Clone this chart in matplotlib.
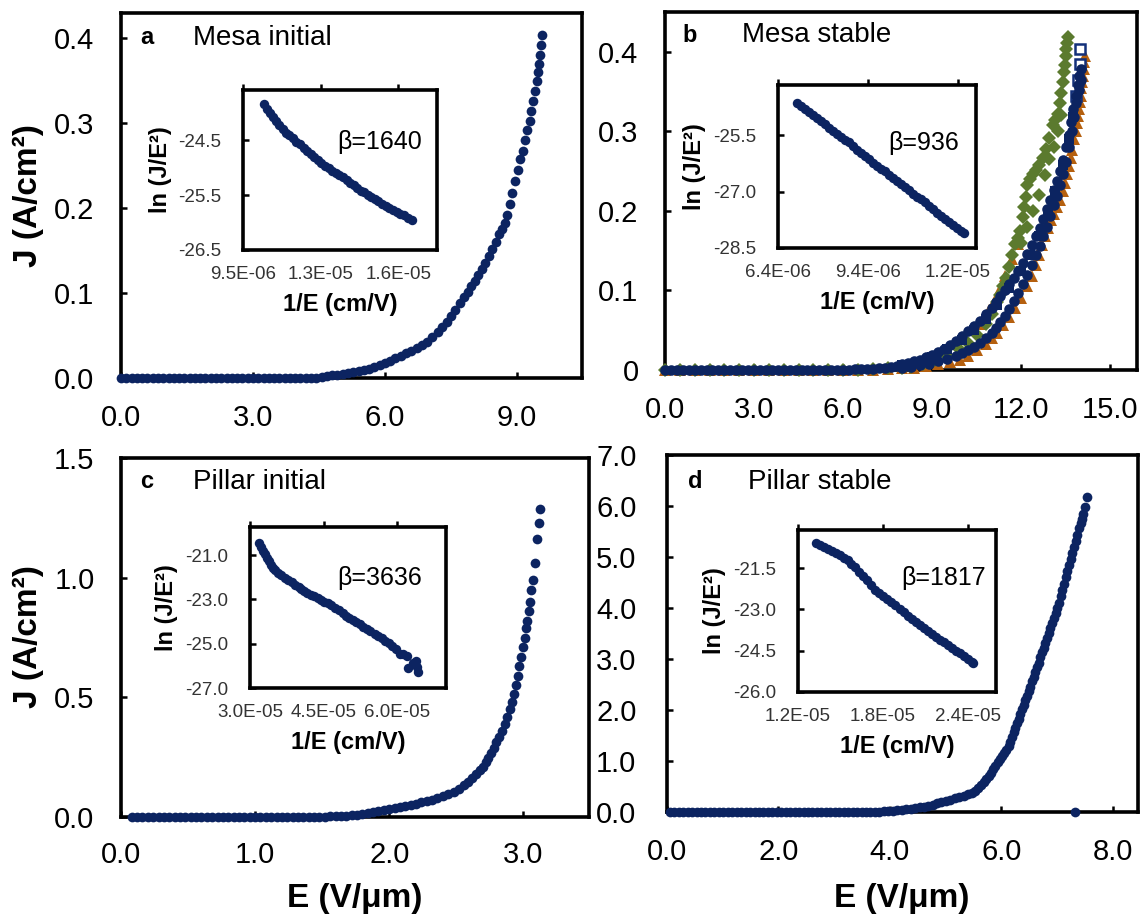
import matplotlib
matplotlib.use("Agg")
import matplotlib.pyplot as plt
import numpy as np

plt.rcParams['font.family'] = ['Liberation Sans', 'DejaVu Sans']
plt.rcParams['axes.unicode_minus'] = False

# ---------------- data ----------------
# Panel a: Mesa initial, E (V/um) vs J (A/cm2)
E_a = [0.00, 0.12, 0.24, 0.36, 0.48, 0.60, 0.72, 0.84, 0.96, 1.08, 1.20, 1.32, 1.44, 1.56, 1.68, 1.80,
       1.92, 2.04, 2.16, 2.28, 2.40, 2.52, 2.64, 2.76, 2.88, 3.00, 3.12, 3.24, 3.36, 3.48, 3.60, 3.72,
       3.84, 3.96, 4.08, 4.20, 4.32, 4.44,
       4.56, 4.68, 4.80, 4.92, 5.04, 5.16, 5.28, 5.40, 5.52, 5.64, 5.76, 5.88, 6.00, 6.12, 6.24, 6.36,
       6.48, 6.60, 6.72, 6.84, 6.96, 7.08, 7.20, 7.30, 7.40, 7.50, 7.60, 7.70, 7.80, 7.88, 7.96, 8.04,
       8.12, 8.20, 8.28, 8.36, 8.44, 8.52, 8.60, 8.66, 8.72, 8.78, 8.84, 8.90, 8.96, 9.02, 9.08, 9.14,
       9.19, 9.24, 9.29, 9.33, 9.37, 9.41, 9.45, 9.48, 9.51, 9.53, 9.55, 9.57]
J_a = [0.000, 0.000, 0.000, 0.000, 0.000, 0.000, 0.000, 0.000, 0.000, 0.000, 0.000, 0.000, 0.000, 0.000,
       0.000, 0.000, 0.000, 0.000, 0.000, 0.000, 0.000, 0.000, 0.000, 0.000, 0.000, 0.000, 0.000, 0.000,
       0.000, 0.000, 0.000, 0.000, 0.000, 0.000, 0.000, 0.000, 0.000, 0.000,
       0.001, 0.002, 0.003, 0.004, 0.005, 0.006, 0.007, 0.008, 0.010, 0.011, 0.013, 0.015, 0.018, 0.020,
       0.023, 0.026, 0.029, 0.032, 0.035, 0.039, 0.043, 0.048, 0.054, 0.060, 0.066, 0.073, 0.080, 0.088,
       0.095, 0.101, 0.108, 0.114, 0.121, 0.128, 0.136, 0.144, 0.152, 0.160, 0.170, 0.176, 0.183, 0.192,
       0.205, 0.218, 0.232, 0.245, 0.258, 0.268, 0.280, 0.292, 0.303, 0.315, 0.326, 0.338, 0.350, 0.360,
       0.370, 0.380, 0.392, 0.404]

# Panel b: Mesa stable, several runs
E_b_circ = [0.0, 0.2, 0.4, 0.6, 0.8, 1.0, 1.2, 1.4, 1.6, 1.8, 2.0, 2.2, 2.4, 2.6, 2.8, 3.0, 3.2, 3.4,
            3.6, 3.8, 4.0, 4.2, 4.4, 4.6, 4.8, 5.0, 5.2, 5.4, 5.6, 5.8, 6.0, 6.2, 6.4, 6.6, 6.8, 7.0,
            7.2, 7.4, 7.6, 7.8, 8.0, 8.2, 8.4, 8.6, 8.8, 9.0, 9.2, 9.4, 9.6, 9.8, 10.0, 10.2, 10.4, 10.6,
            10.8, 11.0, 11.15, 11.3, 11.45, 11.6, 11.75, 11.9, 12.05, 12.2, 12.35, 12.5, 12.62, 12.74,
            12.86, 12.98, 13.1, 13.2, 13.3, 13.4, 13.5, 13.6, 13.68, 13.76, 13.84, 13.9, 13.95, 14.0]
J_b_circ = [0.0, 0.0, 0.0, 0.0, 0.0, 0.0, 0.0, 0.0, 0.0, 0.0, 0.0, 0.0, 0.0, 0.0, 0.0, 0.0, 0.0, 0.0,
            0.0, 0.0, 0.0, 0.0, 0.0, 0.0, 0.0, 0.0, 0.0, 0.0, 0.0, 0.0, 0.0, 0.0, 0.001, 0.001, 0.001, 0.001,
            0.002, 0.003, 0.004, 0.005, 0.007, 0.009, 0.011, 0.013, 0.016, 0.019, 0.023, 0.027, 0.032, 0.037,
            0.043, 0.049, 0.055, 0.062, 0.070, 0.078, 0.085, 0.093, 0.100, 0.108, 0.116, 0.125, 0.135, 0.146,
            0.157, 0.168, 0.178, 0.190, 0.202, 0.214, 0.226, 0.238, 0.250, 0.264, 0.280, 0.296, 0.312, 0.328,
            0.345, 0.358, 0.370, 0.378]
E_b_circ2 = [8.0, 8.3, 8.6, 8.9, 9.2, 9.5, 9.8, 10.0, 10.2, 10.4, 10.6, 10.8, 11.0, 11.15, 11.3, 11.45,
             11.6, 11.75, 11.9, 12.05, 12.2, 12.35, 12.5, 12.62, 12.74, 12.86, 12.98, 13.1, 13.2, 13.3,
             13.4, 13.5, 13.6, 13.7, 13.78, 13.86, 13.93, 14.0]
J_b_circ2 = [0.003, 0.004, 0.006, 0.008, 0.011, 0.014, 0.018, 0.021, 0.025, 0.029, 0.034, 0.040, 0.047,
             0.053, 0.060, 0.068, 0.077, 0.087, 0.097, 0.108, 0.120, 0.132, 0.145, 0.156, 0.168, 0.180,
             0.193, 0.207, 0.219, 0.232, 0.246, 0.262, 0.280, 0.300, 0.318, 0.336, 0.352, 0.365]
E_b_sq = [8.0, 8.5, 9.0, 9.5, 10.0, 10.4, 10.8, 11.2, 11.6, 12.0, 12.3, 12.6, 12.9, 13.15, 13.4, 13.6,
          13.75, 13.85, 13.92, 13.97, 13.97]
J_b_sq = [0.006, 0.010, 0.016, 0.026, 0.038, 0.050, 0.064, 0.082, 0.103, 0.125, 0.145, 0.168, 0.196,
          0.225, 0.258, 0.290, 0.318, 0.345, 0.365, 0.385, 0.404]
E_b_tri = [0.0, 0.5, 1.0, 1.5, 2.0, 2.5, 3.0, 3.5, 4.0, 4.5, 5.0, 5.5, 6.0, 6.5, 7.0, 7.5, 8.0,
           8.4, 8.8, 9.2, 9.6, 9.93, 10.2, 10.5, 10.8, 11.0, 11.2, 11.4, 11.6, 11.8, 12.0, 12.2, 12.35,
           12.5, 12.6, 12.7, 12.8, 12.9, 13.0, 13.1, 13.2, 13.3, 13.4, 13.47, 13.54, 13.6, 13.66, 13.72,
           13.78, 13.83, 13.87, 13.91, 13.94, 13.97, 14.0, 14.03, 14.05, 14.08, 14.1, 14.12, 14.14,
           10.6, 10.9, 11.1, 11.3, 11.45, 11.7, 11.9]
J_b_tri = [0.0, 0.0, 0.0, 0.0, 0.0, 0.0, 0.0, 0.0, 0.0, 0.0, 0.0, 0.0, 0.0, 0.0, 0.0, 0.001, 0.002,
           0.003, 0.005, 0.007, 0.010, 0.0125, 0.018, 0.025, 0.033, 0.040, 0.047, 0.056, 0.066, 0.078,
           0.091, 0.105, 0.118, 0.132, 0.145, 0.157, 0.168, 0.178, 0.188, 0.196, 0.205, 0.214, 0.225,
           0.235, 0.246, 0.256, 0.266, 0.277, 0.290, 0.300, 0.310, 0.319, 0.328, 0.337, 0.345, 0.354,
           0.362, 0.370, 0.378, 0.387, 0.395,
           0.058, 0.075, 0.088, 0.102, 0.118, 0.140, 0.158]
E_b_dia = [0.0, 0.5, 1.0, 1.5, 2.0, 2.5, 3.0, 3.5, 4.0, 4.5, 5.0, 5.5, 6.0, 6.5, 7.0, 7.5, 8.0,
           8.3, 8.7, 9.1, 9.5, 9.9, 10.2, 10.5, 10.8, 11.0, 11.2, 11.3, 11.4, 11.5, 11.6, 11.7, 11.8,
           11.9, 11.96, 12.05, 12.1, 12.15, 12.2, 12.3, 12.4, 12.5, 12.6, 12.73, 12.85, 12.95, 13.06,
           13.15, 13.25, 13.3, 13.35, 13.4, 13.44, 13.47, 13.5, 13.52, 13.55, 13.57,
           12.0, 12.2, 12.4, 12.6, 12.8, 12.95, 13.1, 13.25, 13.35]
J_b_dia = [0.0, 0.0, 0.0, 0.0, 0.0, 0.0, 0.0, 0.0, 0.0, 0.0, 0.0, 0.0, 0.0, 0.0, 0.001, 0.002, 0.003,
           0.004, 0.007, 0.012, 0.018, 0.026, 0.034, 0.044, 0.058, 0.070, 0.085, 0.094, 0.105, 0.116,
           0.130, 0.145, 0.158, 0.166, 0.175, 0.192, 0.205, 0.218, 0.232, 0.240, 0.246, 0.252, 0.258,
           0.266, 0.278, 0.292, 0.308, 0.314, 0.322, 0.335, 0.348, 0.362, 0.374, 0.384, 0.395, 0.403,
           0.411, 0.419,
           0.160, 0.180, 0.200, 0.220, 0.245, 0.265, 0.280, 0.300, 0.320]

# Panel c: Pillar initial
E_c = [0.08, 0.12, 0.16, 0.20, 0.24, 0.28, 0.32, 0.36, 0.40, 0.44, 0.48, 0.52, 0.56, 0.60, 0.64, 0.68,
       0.72, 0.76, 0.80, 0.84, 0.88, 0.92, 0.96, 1.00, 1.04, 1.08, 1.12, 1.16, 1.20, 1.24, 1.28, 1.32,
       1.36, 1.40, 1.44, 1.48, 1.52, 1.56, 1.60, 1.64, 1.68, 1.72,
       1.76, 1.80, 1.84, 1.88, 1.92, 1.96, 2.00, 2.04, 2.08, 2.12, 2.16, 2.20, 2.24, 2.28, 2.32, 2.36,
       2.40, 2.44, 2.48, 2.52, 2.56, 2.59, 2.62, 2.65, 2.68, 2.70, 2.72, 2.74, 2.76, 2.78, 2.80, 2.82,
       2.84, 2.86, 2.88, 2.90, 2.915, 2.93, 2.945, 2.96, 2.97, 2.985, 3.00, 3.01, 3.02, 3.03, 3.04,
       3.05, 3.06, 3.075, 3.09, 3.10, 3.12, 3.127]
J_c = [0.000, 0.000, 0.000, 0.000, 0.000, 0.000, 0.000, 0.000, 0.000, 0.000, 0.000, 0.000, 0.000, 0.000,
       0.000, 0.000, 0.000, 0.000, 0.000, 0.000, 0.000, 0.000, 0.000, 0.000, 0.000, 0.000, 0.000, 0.000,
       0.000, 0.000, 0.000, 0.000, 0.000, 0.001, 0.001, 0.002, 0.002, 0.003, 0.004, 0.005, 0.006, 0.008,
       0.010, 0.014, 0.018, 0.021, 0.025, 0.029, 0.033, 0.037, 0.041, 0.046, 0.051, 0.056, 0.061, 0.067,
       0.073, 0.080, 0.087, 0.095, 0.104, 0.115, 0.135, 0.148, 0.162, 0.178, 0.196, 0.210, 0.228, 0.248,
       0.268, 0.290, 0.312, 0.335, 0.360, 0.388, 0.418, 0.450, 0.480, 0.515, 0.550, 0.590, 0.630, 0.670,
       0.710, 0.750, 0.790, 0.820, 0.860, 0.900, 0.950, 0.990, 1.060, 1.160, 1.230, 1.285]

# Panel d: Pillar stable
E_d = [0.05, 0.13, 0.21, 0.29, 0.37, 0.45, 0.53, 0.61, 0.69, 0.77, 0.85, 0.93, 1.01, 1.09, 1.17, 1.25,
       1.33, 1.41, 1.49, 1.57, 1.65, 1.73, 1.81, 1.89, 1.97, 2.05, 2.13, 2.21, 2.29, 2.37, 2.45, 2.53,
       2.61, 2.69, 2.77, 2.85, 2.93, 3.01, 3.09, 3.17, 3.25, 3.33, 3.41, 3.49, 3.57, 3.65, 3.73,
       3.81, 3.89, 3.97, 4.05, 4.13, 4.21, 4.29, 4.37, 4.45, 4.53, 4.61, 4.69, 4.77, 4.84, 4.92, 5.00,
       5.08, 5.16, 5.24, 5.32, 5.40, 5.47, 5.53, 5.58, 5.63, 5.68, 5.73, 5.77, 5.81, 5.85, 5.89, 5.93,
       5.97, 6.01, 6.05, 6.09, 6.13, 6.16, 6.19, 6.22, 6.25, 6.28, 6.31, 6.34, 6.37, 6.40, 6.43, 6.46,
       6.49, 6.52, 6.55, 6.58, 6.61, 6.64, 6.67, 6.70, 6.73, 6.76, 6.79, 6.82, 6.85, 6.88, 6.91, 6.94,
       6.97, 7.00, 7.03, 7.06, 7.09, 7.12, 7.15, 7.18, 7.21, 7.24, 7.27, 7.30, 7.33, 7.36, 7.39, 7.42,
       7.45, 7.47, 7.50, 7.53, 7.32]
J_d = [0.00, 0.00, 0.00, 0.00, 0.00, 0.00, 0.00, 0.00, 0.00, 0.00, 0.00, 0.00, 0.00, 0.00, 0.00, 0.00,
       0.00, 0.00, 0.00, 0.00, 0.00, 0.00, 0.00, 0.00, 0.00, 0.00, 0.00, 0.00, 0.00, 0.00, 0.00, 0.00,
       0.00, 0.00, 0.00, 0.00, 0.00, 0.00, 0.00, 0.00, 0.00, 0.00, 0.00, 0.00, 0.00, 0.00, 0.00,
       0.005, 0.01, 0.015, 0.02, 0.03, 0.04, 0.05, 0.06, 0.07, 0.09, 0.10, 0.12, 0.14, 0.17, 0.19, 0.22,
       0.24, 0.27, 0.29, 0.32, 0.35, 0.38, 0.42, 0.47, 0.53, 0.59, 0.65, 0.71, 0.77, 0.84, 0.91, 0.98,
       1.04, 1.10, 1.16, 1.22, 1.29, 1.38, 1.47, 1.56, 1.65, 1.74, 1.83, 1.92, 2.01, 2.10, 2.19, 2.28,
       2.37, 2.46, 2.56, 2.65, 2.74, 2.84, 2.93, 3.03, 3.13, 3.22, 3.32, 3.41, 3.51, 3.60, 3.70, 3.80,
       3.90, 4.00, 4.10, 4.24, 4.36, 4.48, 4.60, 4.72, 4.84, 4.96, 5.08, 5.20, 5.32, 5.44, 5.56, 5.66,
       5.74, 5.84, 5.98, 6.18, 0.00]

# Insets: 1/E in units of 1e-6 cm/V, ln(J/E^2)
invE_a = [10.37, 10.50, 10.62, 10.75, 10.88, 11.00, 11.13, 11.27, 11.40, 11.55, 11.70, 11.85, 12.00,
          12.15, 12.29, 12.43, 12.58, 12.73, 12.88, 13.03, 13.18, 13.32, 13.47, 13.62, 13.77, 13.92,
          14.06, 14.20, 14.35, 14.49, 14.64, 14.78, 14.93, 15.08, 15.23, 15.38, 15.53, 15.69, 15.84,
          15.99, 16.13, 16.30, 16.47]
lnJ_a = [-23.83, -23.92, -24.00, -24.08, -24.14, -24.22, -24.29, -24.37, -24.40, -24.46, -24.53, -24.56,
         -24.64, -24.69, -24.75, -24.81, -24.85, -24.92, -24.96, -25.01, -25.05, -25.10, -25.13, -25.17,
         -25.23, -25.27, -25.32, -25.37, -25.42, -25.45, -25.50, -25.53, -25.57, -25.61, -25.66, -25.69,
         -25.73, -25.77, -25.80, -25.84, -25.87, -25.92, -25.95]
invE_b = [7.04, 7.17, 7.31, 7.44, 7.57, 7.71, 7.84, 7.97, 8.11, 8.24, 8.37, 8.51, 8.64, 8.77, 8.91,
          9.04, 9.17, 9.31, 9.44, 9.57, 9.71, 9.84, 9.97, 10.11, 10.24, 10.37, 10.51, 10.64, 10.77,
          10.91, 11.04, 11.17, 11.31, 11.44, 11.57, 11.71, 11.84, 11.97, 12.11, 12.24, 12.37, 12.51, 12.59]
lnJ_b = [-24.65, -24.73, -24.82, -24.90, -24.98, -25.05, -25.13, -25.20, -25.30, -25.38, -25.47, -25.55,
         -25.62, -25.69, -25.80, -25.90, -25.98, -26.05, -26.13, -26.23, -26.31, -26.40, -26.46, -26.56,
         -26.65, -26.73, -26.79, -26.89, -26.97, -27.06, -27.14, -27.21, -27.27, -27.38, -27.46, -27.56,
         -27.64, -27.73, -27.81, -27.89, -27.98, -28.06, -28.11]
invE_c = [31.8, 32.2, 32.6, 33.0, 33.4, 33.8, 34.3, 34.7, 35.1, 35.7, 36.4, 37.1, 37.8, 38.5, 39.2,
          39.9, 40.5, 41.0, 41.7, 42.4, 43.1, 43.8, 44.5, 45.2, 45.9, 46.6, 47.3, 48.2, 48.9, 49.6,
          50.3, 51.0, 51.7, 52.4, 53.1, 53.8, 54.5, 55.5, 56.2, 56.9, 57.6, 58.3, 59.0, 59.8, 60.6,
          61.3, 62.0, 62.3, 63.3, 63.9, 64.3, 64.0]
lnJ_c = [-20.45, -20.62, -20.80, -20.97, -21.13, -21.28, -21.43, -21.56, -21.68, -21.80, -21.92, -22.02,
         -22.12, -22.22, -22.33, -22.44, -22.54, -22.60, -22.70, -22.78, -22.86, -22.94, -23.02, -23.10,
         -23.18, -23.27, -23.37, -23.50, -23.62, -23.73, -23.82, -23.92, -24.03, -24.13, -24.24, -24.32,
         -24.42, -24.55, -24.66, -24.76, -24.87, -24.98, -25.10, -25.25, -25.45, -25.47, -25.55, -26.10,
         -25.85, -25.80, -26.30, -26.05]
invE_d = [13.26, 13.54, 13.82, 14.10, 14.38, 14.66, 14.94, 15.22, 15.50, 15.78, 16.06, 16.34, 16.62,
          16.90, 17.18, 17.47, 17.75, 18.03, 18.31, 18.59, 18.87, 19.20, 19.48, 19.76, 20.04, 20.32,
          20.60, 20.88, 21.16, 21.44, 21.75, 22.03, 22.31, 22.59, 22.87, 23.15, 23.43, 23.71, 23.99,
          24.27, 24.40]
lnJ_d = [-20.59, -20.66, -20.73, -20.80, -20.87, -20.95, -21.03, -21.12, -21.22, -21.34, -21.48, -21.63,
         -21.79, -21.95, -22.12, -22.28, -22.42, -22.53, -22.64, -22.75, -22.86, -22.98, -23.11, -23.23,
         -23.35, -23.45, -23.56, -23.66, -23.77, -23.88, -24.00, -24.10, -24.20, -24.30, -24.40, -24.50,
         -24.60, -24.70, -24.80, -24.90, -24.95]

panel_letters = ['a', 'b', 'c', 'd']
panel_titles = ['Mesa initial', 'Mesa stable', 'Pillar initial', 'Pillar stable']
betas = ['β=1640', 'β=936', 'β=3636', 'β=1817']

# ---------------- figure ----------------
W, H = 1141, 916
fig = plt.figure(figsize=(W / 100, H / 100), dpi=100)
NAVY = '#0c2461'
GREEN = '#5b7a2e'
ORANGE = '#b5600f'


def box(l, t, r, b):
    return [l / W, 1 - b / H, (r - l) / W, (b - t) / H]


def ftext(x, y, s, **kw):
    fig.text(x / W, 1 - y / H, s, **kw)


def style_main(ax, xlim, ylim, xticks, yticks, xlabels, ylabels, xpad=19, ypad=19):
    ax.set_xlim(*xlim)
    ax.set_ylim(*ylim)
    ax.set_xticks(xticks)
    ax.set_xticklabels(xlabels)
    ax.set_yticks(yticks)
    ax.set_yticklabels(ylabels)
    ax.tick_params(axis='both', direction='in', length=4.5, width=1.8, labelsize=21,
                   top=False, right=False, colors='black')
    ax.tick_params(axis='x', pad=xpad)
    ax.tick_params(axis='y', pad=ypad)
    for s in ax.spines.values():
        s.set_linewidth(2.6)
        s.set_color('black')


def style_inset(ax, xlim, ylim, xticks, yticks):
    ax.set_xlim(*xlim)
    ax.set_ylim(*ylim)
    ax.set_xticks(xticks)
    ax.set_xticklabels(['{:.1E}'.format(v) for v in xticks])
    ax.set_yticks(yticks)
    ax.set_yticklabels(['{:.1f}'.format(v) for v in yticks])
    ax.tick_params(axis='x', direction='out', length=4.5, width=1.8, bottom=False, top=True,
                   labelbottom=True, labeltop=False, labelsize=13.5, pad=7, labelcolor='#333333')
    ax.tick_params(axis='y', direction='in', length=4.5, width=1.8, left=True, right=False,
                   labelsize=13.5, pad=16, labelcolor='#333333')
    for s in ax.spines.values():
        s.set_linewidth(2.6)
        s.set_color('black')


mk = dict(linestyle='none', clip_on=False, zorder=3)

# Panel a
axa = fig.add_axes(box(121, 13, 582, 378))
axa.plot(E_a, J_a, 'o', color=NAVY, ms=7.0, mew=0, **mk)
style_main(axa, (0, 10.48), (0, 0.43), [0, 3, 6, 9], [0, 0.1, 0.2, 0.3, 0.4],
           ['0.0', '3.0', '6.0', '9.0'], ['0.0', '0.1', '0.2', '0.3', '0.4'])

# Panel b
axb = fig.add_axes(box(665, 12, 1137, 370))
axb.plot(E_b_tri, J_b_tri, '^', color=ORANGE, ms=8.0, mew=0, **mk)
axb.plot(E_b_dia, J_b_dia, 'D', color=GREEN, ms=7.0, mew=0, **mk)
n_filled = 17  # lower squares are buried in the navy band, the top ones appear open
axb.plot(E_b_sq[:n_filled], J_b_sq[:n_filled], 's', color=NAVY, ms=7.0, mew=0, **mk)
axb.plot(E_b_sq[n_filled:], J_b_sq[n_filled:], 's', mfc='white', mec='#13307a', ms=6.5, mew=1.8, **mk)
axb.plot(E_b_circ2, J_b_circ2, 'o', color=NAVY, ms=7.6, mew=0, **mk)
axb.plot(E_b_circ, J_b_circ, 'o', color=NAVY, ms=7.6, mew=0, **mk)
style_main(axb, (0, 15.9), (0, 0.45), [0, 3, 6, 9, 12, 15], [0, 0.1, 0.2, 0.3, 0.4],
           ['0.0', '3.0', '6.0', '9.0', '12.0', '15.0'], ['0', '0.1', '0.2', '0.3', '0.4'])

# Panel c
axc = fig.add_axes(box(121, 458, 589, 817))
axc.plot(E_c, J_c, 'o', color=NAVY, ms=7.0, mew=0, **mk)
style_main(axc, (0, 3.49), (0, 1.5), [0, 1, 2, 3], [0, 0.5, 1.0, 1.5],
           ['0.0', '1.0', '2.0', '3.0'], ['0.0', '0.5', '1.0', '1.5'], xpad=17)

# Panel d
axd = fig.add_axes(box(667, 455, 1138, 812))
axd.plot(E_d, J_d, 'o', color=NAVY, ms=7.0, mew=0, **mk)
style_main(axd, (0, 8.45), (0, 7.0), [0, 2, 4, 6, 8], [0, 1, 2, 3, 4, 5, 6, 7],
           ['0.0', '2.0', '4.0', '6.0', '8.0'],
           ['0.0', '1.0', '2.0', '3.0', '4.0', '5.0', '6.0', '7.0'], ypad=22)

# Insets
ins_specs = [
    ((243, 90, 437, 250), invE_a, lnJ_a, (9.5e-6, 1.75e-5), (-26.5, -23.58), [9.5e-6, 12.7e-6, 15.9e-6],
     [-26.5, -25.5, -24.5]),
    ((778, 85, 976, 248), invE_b, lnJ_b, (6.4e-6, 1.3e-5), (-28.5, -24.17), [6.4e-6, 9.4e-6, 12.4e-6],
     [-28.5, -27.0, -25.5]),
    ((250, 527, 446, 688), invE_c, lnJ_c, (3.0e-5, 7.0e-5), (-27.0, -19.73), [3.0e-5, 4.5e-5, 6.0e-5],
     [-27.0, -25.0, -23.0, -21.0]),
    ((798, 530, 996, 692), invE_d, lnJ_d, (1.2e-5, 2.6e-5), (-26.0, -20.12), [1.2e-5, 1.8e-5, 2.4e-5],
     [-26.0, -24.5, -23.0, -21.5]),
]
for (l, t, r, b), xv, yv, xl, yl, xt, yt in ins_specs:
    axi = fig.add_axes(box(l, t, r, b))
    axi.set_facecolor('white')
    axi.plot(np.array(xv) * 1e-6, yv, 'o', color=NAVY, ms=6.8, mew=0, linestyle='none', zorder=3)
    style_inset(axi, xl, yl, xt, yt)
    axi.text(-83 / (r - l), 0.5, 'ln (J/E²)', rotation=90, ha='center', va='center',
             transform=axi.transAxes, fontsize=17, fontweight='bold')
    axi.text(0.5, -55 / (b - t), '1/E (cm/V)', ha='center', va='center',
             transform=axi.transAxes, fontsize=17, fontweight='bold')

# Axis labels
ftext(28, 196, 'J (A/cm²)', rotation=90, ha='center', va='center', fontsize=24, fontweight='bold')
ftext(28, 637, 'J (A/cm²)', rotation=90, ha='center', va='center', fontsize=24, fontweight='bold')
ftext(355, 898, 'E (V/μm)', ha='center', va='center', fontsize=24, fontweight='bold')
ftext(902, 898, 'E (V/μm)', ha='center', va='center', fontsize=24, fontweight='bold')

# Panel letters and titles
letter_pos = [(147, 38), (690, 35), (147, 482), (695, 482)]
title_pos = [(193, 38), (742, 35), (193, 482), (748, 482)]
beta_pos = [(337, 142), (888, 143), (337, 578), (901, 578)]
for (lx, ly), (tx, ty), (bx, by), let, tit, bet in zip(letter_pos, title_pos, beta_pos,
                                                      panel_letters, panel_titles, betas):
    ftext(lx, ly, let, ha='center', va='center', fontsize=17, fontweight='bold')
    ftext(tx, ty, tit, ha='left', va='center', fontsize=20)
    ftext(bx, by, bet, ha='left', va='center', fontsize=18)

fig.savefig('out.png', dpi=100)
